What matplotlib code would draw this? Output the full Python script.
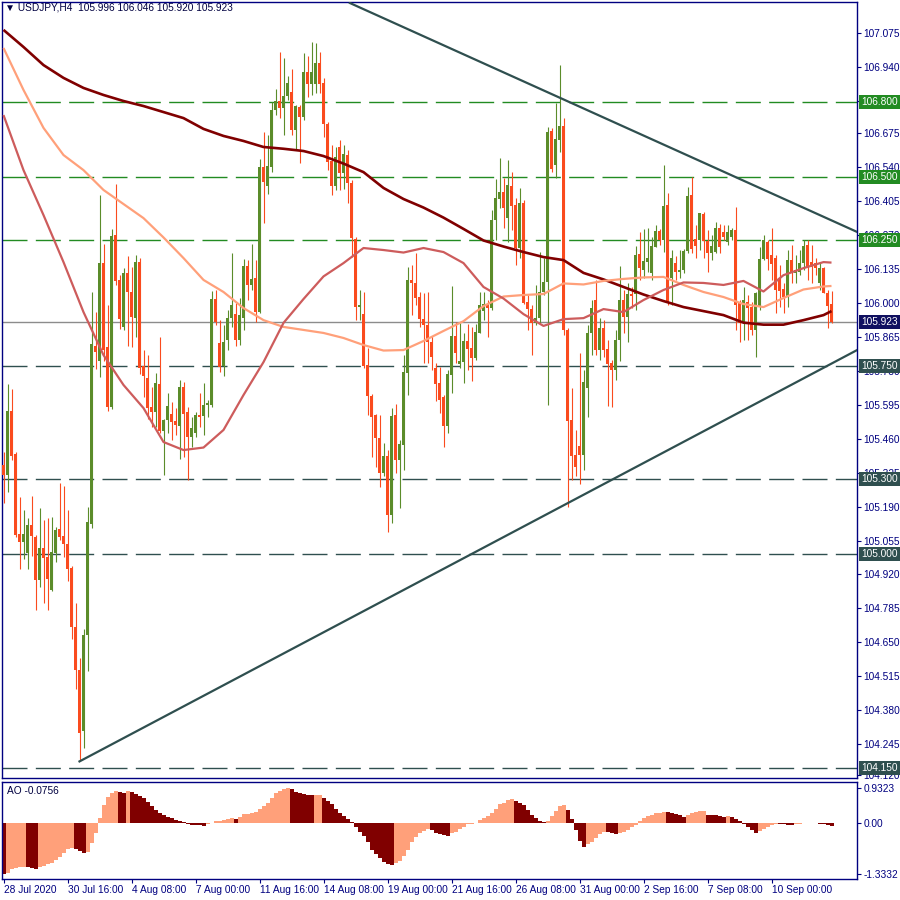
import matplotlib
matplotlib.use('Agg')
import matplotlib.pyplot as plt
import matplotlib.transforms as mtransforms
import numpy as np

plt.rcParams['font.family'] = ['Liberation Sans', 'DejaVu Sans']
plt.rcParams['lines.scale_dashes'] = False

# ---------------- data ----------------
chart_title = "\u25BC USDJPY,H4  105.996 106.046 105.920 105.923"
ao_title = "AO -0.0756"

opens = [105.355, 105.316, 105.571, 105.399, 105.081, 105.050, 105.006, 105.117, 105.069, 104.898,
         105.025, 104.989, 104.858, 105.006, 105.101, 105.073, 105.041, 104.945, 104.709, 104.539,
         104.298, 104.679, 105.120, 105.829, 105.768, 106.159, 105.825, 105.585, 106.271, 106.091,
         105.905, 106.121, 106.042, 105.942, 106.162, 105.751, 105.700, 105.587, 105.567, 105.678,
         105.492, 105.534, 105.558, 105.530, 105.512, 105.667, 105.565, 105.468, 105.482, 105.554,
         105.550, 105.593, 105.594, 106.016, 105.841, 105.749, 105.853, 105.939, 105.956, 105.853,
         105.939, 106.147, 106.072, 106.101, 105.965, 106.543, 106.467, 106.543, 106.768, 106.804,
         106.777, 106.824, 106.841, 106.689, 106.781, 106.742, 106.921, 106.871, 106.872, 106.956,
         106.877, 106.711, 106.565, 106.467, 106.622, 106.516, 106.589, 106.477, 106.255, 105.983,
         105.956, 105.753, 105.631, 105.554, 105.462, 105.325, 105.391, 105.156, 105.554, 105.375,
         105.435, 105.723, 106.092, 106.078, 106.025, 105.935, 105.913, 105.846, 105.740, 105.681,
         105.625, 105.512, 105.714, 105.869, 105.756, 105.766, 105.849, 105.820, 105.780, 105.882,
         105.968, 105.995, 105.979, 106.330, 106.414, 106.443, 106.340, 106.466, 106.390, 106.220,
         106.399, 106.005, 105.976, 105.919, 105.939, 106.043, 106.083, 106.686, 106.549, 106.649,
         106.705, 105.893, 105.534, 105.395, 105.432, 105.395, 105.663, 105.880, 106.012, 105.813,
         105.899, 105.817, 105.760, 105.733, 105.853, 106.012, 105.946, 106.036, 106.036, 106.195,
         106.131, 106.164, 106.121, 106.224, 106.287, 106.251, 106.390, 106.101, 106.158, 106.125,
         106.131, 106.207, 106.430, 106.254, 106.251, 106.353, 106.247, 106.198, 106.204, 106.297,
         106.284, 106.244, 106.264, 106.291, 105.999, 105.922, 106.005, 105.983, 105.893, 105.983,
         106.174, 106.244, 106.191, 106.178, 106.098, 106.055, 106.025, 106.171, 106.118, 106.125,
         106.158, 106.231, 106.164, 106.158, 106.078, 106.138, 106.041, 105.996]

highs = [105.407, 105.678, 105.658, 105.407, 105.229, 105.176, 105.144, 105.232, 105.075, 105.185,
         105.136, 105.146, 105.150, 105.110, 105.284, 105.273, 105.176, 104.953, 104.808, 104.587,
         104.703, 105.189, 106.045, 105.963, 106.430, 106.235, 105.993, 106.294, 106.472, 106.112,
         106.141, 106.187, 106.145, 106.191, 106.179, 105.813, 105.793, 105.667, 105.720, 105.866,
         105.540, 105.641, 105.607, 105.583, 105.694, 105.687, 105.587, 105.548, 105.567, 105.641,
         105.681, 105.614, 106.049, 106.052, 105.932, 105.913, 105.972, 106.198, 106.000, 106.020,
         106.174, 106.171, 106.235, 106.171, 106.572, 106.681, 106.669, 106.800, 106.852, 106.999,
         106.975, 106.904, 106.931, 106.788, 106.788, 106.995, 106.983, 107.039, 107.035, 106.999,
         106.896, 106.720, 106.629, 106.622, 106.649, 106.629, 106.609, 106.490, 106.263, 106.052,
         106.044, 105.821, 105.640, 105.560, 105.554, 105.442, 105.415, 105.582, 105.598, 105.455,
         105.793, 106.145, 106.150, 106.198, 106.044, 106.039, 106.045, 105.869, 105.761, 105.747,
         105.634, 105.733, 106.068, 105.926, 105.920, 105.881, 105.917, 105.906, 105.917, 106.045,
         106.045, 106.012, 106.370, 106.494, 106.577, 106.498, 106.569, 106.523, 106.418, 106.459,
         106.410, 106.032, 105.992, 106.072, 106.203, 106.179, 106.701, 106.697, 106.796, 106.947,
         106.736, 105.900, 105.662, 105.495, 105.801, 105.733, 105.913, 106.012, 106.092, 105.940,
         105.932, 105.853, 105.773, 105.893, 106.147, 106.052, 106.080, 106.064, 106.227, 106.283,
         106.295, 106.299, 106.263, 106.311, 106.295, 106.549, 106.438, 106.211, 106.187, 106.211,
         106.215, 106.463, 106.502, 106.311, 106.360, 106.362, 106.291, 106.271, 106.322, 106.314,
         106.311, 106.311, 106.299, 106.382, 106.012, 106.065, 106.032, 106.004, 106.044, 106.224,
         106.271, 106.251, 106.299, 106.191, 106.151, 106.080, 106.211, 106.231, 106.191, 106.211,
         106.251, 106.251, 106.231, 106.179, 106.163, 106.143, 106.052, 106.046]

lows = [105.204, 105.248, 105.375, 105.069, 104.941, 104.981, 104.941, 104.994, 104.778, 104.871,
        104.806, 104.778, 104.854, 104.970, 105.057, 104.991, 104.895, 104.664, 104.465, 104.176,
        104.229, 104.534, 105.105, 105.737, 105.707, 105.769, 105.570, 105.577, 106.073, 105.897,
        105.893, 105.829, 105.826, 105.866, 105.718, 105.627, 105.538, 105.508, 105.505, 105.482,
        105.316, 105.482, 105.455, 105.475, 105.378, 105.386, 105.296, 105.428, 105.468, 105.508,
        105.475, 105.548, 105.587, 105.913, 105.725, 105.710, 105.813, 105.906, 105.829, 105.833,
        105.893, 106.012, 106.052, 105.924, 105.959, 106.320, 106.435, 106.522, 106.748, 106.736,
        106.669, 106.808, 106.669, 106.609, 106.558, 106.728, 106.820, 106.828, 106.836, 106.836,
        106.661, 106.529, 106.430, 106.450, 106.450, 106.453, 106.398, 106.183, 105.932, 105.932,
        105.741, 105.554, 105.388, 105.349, 105.269, 105.312, 105.089, 105.124, 105.322, 105.184,
        105.335, 105.634, 105.952, 105.992, 105.905, 105.760, 105.761, 105.733, 105.611, 105.562,
        105.428, 105.482, 105.642, 105.761, 105.741, 105.680, 105.733, 105.691, 105.773, 105.881,
        105.932, 105.866, 105.972, 106.251, 106.380, 106.297, 106.243, 106.291, 106.153, 106.179,
        105.996, 105.893, 105.794, 105.913, 105.919, 106.032, 105.594, 106.522, 106.498, 106.601,
        105.873, 105.190, 105.296, 105.312, 105.280, 105.335, 105.546, 105.793, 105.793, 105.773,
        105.785, 105.590, 105.586, 105.694, 105.769, 105.879, 105.846, 105.980, 105.972, 106.092,
        106.098, 106.123, 106.092, 106.223, 106.231, 106.203, 105.992, 105.992, 106.092, 106.100,
        106.120, 106.199, 106.199, 106.179, 106.211, 106.179, 106.123, 106.171, 106.198, 106.199,
        106.251, 106.231, 106.251, 105.893, 105.846, 105.853, 105.853, 105.873, 105.785, 105.972,
        106.171, 106.131, 106.092, 105.960, 105.985, 105.959, 105.984, 106.080, 106.080, 106.112,
        106.131, 106.092, 106.080, 106.112, 106.052, 106.040, 105.899, 105.920]

closes = [105.316, 105.571, 105.391, 105.077, 105.050, 105.081, 105.117, 105.074, 104.898, 105.025,
          104.986, 104.902, 105.009, 105.097, 105.070, 105.041, 104.941, 104.709, 104.539, 104.290,
          104.679, 105.128, 105.837, 105.806, 106.159, 105.813, 105.585, 106.268, 106.088, 105.938,
          106.118, 106.042, 105.946, 106.162, 105.743, 105.711, 105.583, 105.565, 105.683, 105.492,
          105.534, 105.590, 105.528, 105.515, 105.667, 105.558, 105.468, 105.501, 105.554, 105.548,
          105.594, 105.603, 106.016, 105.925, 105.747, 105.845, 105.939, 105.992, 105.853, 105.952,
          106.147, 106.072, 106.094, 105.965, 106.543, 106.483, 106.545, 106.768, 106.804, 106.777,
          106.824, 106.877, 106.689, 106.784, 106.742, 106.921, 106.871, 106.918, 106.956, 106.871,
          106.711, 106.562, 106.467, 106.582, 106.516, 106.593, 106.477, 106.258, 105.983, 105.992,
          105.749, 105.631, 105.548, 105.462, 105.325, 105.391, 105.156, 105.550, 105.375, 105.439,
          105.727, 106.092, 106.081, 106.019, 105.935, 105.913, 105.844, 105.786, 105.677, 105.614,
          105.512, 105.718, 105.869, 105.800, 105.769, 105.849, 105.817, 105.782, 105.883, 105.992,
          105.995, 105.979, 106.330, 106.417, 106.443, 106.377, 106.470, 106.386, 106.220, 106.399,
          106.001, 105.976, 105.919, 105.939, 106.043, 106.083, 106.679, 106.532, 106.653, 106.705,
          105.893, 105.530, 105.391, 105.349, 105.395, 105.687, 105.880, 105.979, 105.813, 105.899,
          105.813, 105.756, 105.733, 105.853, 106.012, 105.946, 106.036, 106.028, 106.191, 106.141,
          106.167, 106.180, 106.227, 106.287, 106.251, 106.386, 106.005, 106.178, 106.125, 106.131,
          106.207, 106.426, 106.214, 106.227, 106.357, 106.247, 106.198, 106.227, 106.297, 106.224,
          106.264, 106.284, 106.291, 105.992, 105.922, 106.012, 105.979, 105.893, 106.039, 106.174,
          106.251, 106.174, 106.155, 106.052, 106.049, 106.023, 106.171, 106.118, 106.131, 106.160,
          106.227, 106.145, 106.145, 106.138, 106.138, 106.041, 105.988, 105.923]

# moving averages, sampled at these bar indices
ma_idx = [0, 5, 10, 15, 20, 25, 30, 35, 40, 45, 50, 55, 60, 65, 70, 75, 80, 85, 90, 95,
          100, 105, 110, 115, 120, 125, 130, 135, 140, 145, 150, 155, 160, 165, 170, 175,
          180, 185, 190, 195, 200, 205, 207]
ma_slow = [107.087, 107.019, 106.947, 106.896, 106.856, 106.828, 106.804, 106.784, 106.760, 106.736,
           106.693, 106.665, 106.645, 106.621, 106.614, 106.605, 106.585, 106.555, 106.521, 106.458,
           106.414, 106.380, 106.340, 106.295, 106.249, 106.225, 106.203, 106.183, 106.171, 106.120,
           106.094, 106.064, 106.034, 106.008, 105.984, 105.968, 105.952, 105.922, 105.914, 105.914,
           105.932, 105.952, 105.968]
ma_mid = [107.015, 106.848, 106.697, 106.589, 106.529, 106.450, 106.394, 106.338, 106.261, 106.179,
          106.092, 106.044, 105.980, 105.932, 105.905, 105.893, 105.881, 105.861, 105.833, 105.811,
          105.813, 105.849, 105.889, 105.928, 105.988, 106.026, 106.032, 106.036, 106.078, 106.074,
          106.088, 106.096, 106.102, 106.104, 106.072, 106.044, 106.024, 105.996, 105.984, 106.020,
          106.054, 106.066, 106.068]
ma_fast = [106.748, 106.529, 106.350, 106.163, 105.964, 105.793, 105.674, 105.582, 105.447, 105.415,
           105.425, 105.495, 105.634, 105.765, 105.921, 106.016, 106.106, 106.159, 106.219, 106.211,
           106.201, 106.219, 106.203, 106.159, 106.064, 106.018, 105.956, 105.909, 105.936, 105.940,
           105.976, 105.964, 106.012, 106.052, 106.082, 106.080, 106.072, 106.088, 106.046, 106.111,
           106.139, 106.163, 106.161]

# Awesome Oscillator
ao_before = -1.300
ao_values = [-1.3332, -1.300, -1.211, -1.175, -1.160, -1.140, -1.158, -1.184, -1.202, -1.158,
             -1.123, -1.070, -1.035, -0.965, -0.877, -0.789, -0.684, -0.649, -0.667, -0.719,
             -0.772, -0.754, -0.526, -0.263, 0.132, 0.482, 0.702, 0.807, 0.851, 0.833,
             0.807, 0.851, 0.833, 0.772, 0.719, 0.658, 0.570, 0.456, 0.351, 0.281,
             0.219, 0.175, 0.132, 0.088, 0.061, 0.044, -0.026, -0.044, -0.048, -0.053,
             -0.061, -0.026, 0.018, 0.053, 0.070, 0.088, 0.105, 0.132, 0.114, 0.175,
             0.237, 0.254, 0.272, 0.289, 0.368, 0.456, 0.544, 0.658, 0.789, 0.860,
             0.904, 0.9323, 0.895, 0.833, 0.789, 0.772, 0.754, 0.746, 0.750, 0.754,
             0.658, 0.588, 0.500, 0.368, 0.263, 0.193, 0.105, 0.044, -0.088, -0.219,
             -0.333, -0.482, -0.702, -0.807, -0.921, -1.009, -1.070, -1.096, -1.053, -0.991,
             -0.860, -0.702, -0.500, -0.351, -0.263, -0.202, -0.158, -0.175, -0.246, -0.281,
             -0.307, -0.333, -0.263, -0.219, -0.149, -0.088, -0.026, -0.009, 0.018, 0.088,
             0.132, 0.193, 0.263, 0.368, 0.509, 0.544, 0.614, 0.640, 0.588, 0.526,
             0.482, 0.351, 0.219, 0.132, 0.061, 0.026, 0.061, 0.193, 0.325, 0.456,
             0.482, 0.351, 0.114, -0.175, -0.465, -0.614, -0.553, -0.482, -0.395, -0.289,
             -0.219, -0.237, -0.263, -0.281, -0.246, -0.219, -0.175, -0.105, -0.044, 0.070,
             0.132, 0.193, 0.228, 0.263, 0.281, 0.298, 0.289, 0.263, 0.246, 0.219,
             0.175, 0.219, 0.263, 0.298, 0.316, 0.325, 0.228, 0.219, 0.211, 0.193,
             0.175, 0.184, 0.158, 0.105, 0.053, -0.026, -0.088, -0.175, -0.246, -0.193,
             -0.140, -0.088, -0.044, -0.009, -0.013, -0.018, -0.035, -0.044, -0.026, -0.009,
             0.018, 0.013, 0.008, 0.002, -0.009, -0.026, -0.053, -0.0756]

levels_green = [106.800, 106.500, 106.250]
levels_slate = [105.750, 105.300, 105.000, 104.150]
last_price = 105.923

trend_upper_x = [86.6, 213.4]
trend_upper_y = [107.194, 106.283]
trend_lower_x = [19.0, 213.4]
trend_lower_y = [104.176, 105.813]

price_ticks = [107.075, 106.940, 106.805, 106.675, 106.540, 106.405, 106.270, 106.135, 106.000,
               105.865, 105.730, 105.595, 105.460, 105.325, 105.190, 105.055, 104.920, 104.785,
               104.650, 104.515, 104.380, 104.245, 104.120]
hidden_tick_labels = [106.805]
ao_ticks = [0.9323, 0.0, -1.3332]
ao_tick_labels = ["0.9323", "0.00", "-1.3332"]
date_tick_idx = [0, 16, 32, 48, 64, 80, 96, 112, 128, 144, 160, 176, 192]
date_labels = ["28 Jul 2020", "30 Jul 16:00", "4 Aug 08:00", "7 Aug 00:00", "11 Aug 16:00",
               "14 Aug 08:00", "19 Aug 00:00", "21 Aug 16:00", "26 Aug 08:00", "31 Aug 00:00",
               "2 Sep 16:00", "7 Sep 08:00", "10 Sep 00:00"]

# ---------------- styles ----------------
NAVY = '#000080'
BULL = '#5B8C2A'
BEAR = '#FA4B1E'
GREEN_LVL = '#228B22'
SLATE = '#2F4F4F'
FS = 7.3

W, H = 900, 900
fig = plt.figure(figsize=(9, 9), dpi=100)
fig.patch.set_facecolor('white')


def px_rect(l, t, r, b):
    return [l / W, 1 - b / H, (r - l) / W, (b - t) / H]


ax = fig.add_axes(px_rect(2, 2, 857, 778))
ax2 = fig.add_axes(px_rect(2, 782, 857, 879))

o = np.array(opens)
h = np.array(highs)
l = np.array(lows)
c = np.array(closes)
n = len(c)
x = np.arange(n)
bull = c >= o
cols = np.where(bull, BULL, BEAR)

# reference lines
for lv in levels_green:
    ax.axhline(lv, color=GREEN_LVL, lw=1.0, ls=(0, (18, 6)), zorder=1)
for lv in levels_slate:
    ax.axhline(lv, color=SLATE, lw=1.0, ls=(0, (18, 6)), zorder=1)
ax.axhline(last_price, color='#8C8C8C', lw=1.0, zorder=1)

# candles
ax.vlines(x, l, h, colors=cols, lw=0.8, zorder=2)
ax.bar(x, np.maximum(np.abs(c - o), 0.003), bottom=np.minimum(o, c), width=0.72,
       color=cols, linewidth=0, zorder=3)

# moving averages
ax.plot(ma_idx, ma_slow, color='#800000', lw=1.9, zorder=4, solid_capstyle='butt')
ax.plot(ma_idx, ma_mid, color='#FFA07A', lw=1.6, zorder=4, solid_capstyle='butt')
ax.plot(ma_idx, ma_fast, color='#CD5C5C', lw=1.6, zorder=4, solid_capstyle='butt')

# trend lines
ax.plot(trend_upper_x, trend_upper_y, color=SLATE, lw=1.6, zorder=5)
ax.plot(trend_lower_x, trend_lower_y, color=SLATE, lw=1.6, zorder=5)

ax.set_xlim(-0.375, 213.375)
ax.set_ylim(104.110, 107.198)
ax.yaxis.tick_right()
ax.set_yticks(price_ticks)
ax.set_yticklabels(['' if t in hidden_tick_labels else '%.3f' % t for t in price_ticks])
ax.tick_params(axis='y', direction='out', length=3, width=0.8, color=NAVY,
               labelcolor=NAVY, labelsize=FS, pad=1.5)
ax.tick_params(axis='x', bottom=False, labelbottom=False)
for sp in ax.spines.values():
    sp.set_color(NAVY)
    sp.set_linewidth(1.0)

ax.text(0.004, 0.9925, chart_title, transform=ax.transAxes, ha='left', va='center',
        fontsize=FS, color='#000040', zorder=10)

# boxed right-axis labels
tr = mtransforms.blended_transform_factory(ax.transAxes, ax.transData)
for lv in levels_green:
    ax.text(1.0047, lv, '%.3f' % lv, transform=tr, ha='left', va='center', fontsize=FS,
            color='white', clip_on=False, zorder=20,
            bbox=dict(boxstyle='square,pad=0.2', fc=GREEN_LVL, ec='none'))
for lv in levels_slate:
    ax.text(1.0047, lv, '%.3f' % lv, transform=tr, ha='left', va='center', fontsize=FS,
            color='white', clip_on=False, zorder=20,
            bbox=dict(boxstyle='square,pad=0.2', fc=SLATE, ec='none'))
ax.text(1.0047, last_price, '%.3f' % last_price, transform=tr, ha='left', va='center',
        fontsize=FS, color='white', clip_on=False, zorder=21,
        bbox=dict(boxstyle='square,pad=0.2', fc='#101060', ec='none'))

# AO panel
ao = np.array(ao_values)
prev = np.concatenate([[ao_before], ao[:-1]])
ao_cols = np.where(ao > prev, '#FFA07A', '#800000')
ax2.bar(x, ao, width=1.0, color=ao_cols, linewidth=0)
ax2.set_xlim(-0.375, 213.375)
ax2.set_ylim(-1.466, 1.087)
ax2.yaxis.tick_right()
ax2.set_yticks(ao_ticks)
ax2.set_yticklabels(ao_tick_labels)
ax2.tick_params(axis='y', direction='out', length=3, width=0.8, color=NAVY,
                labelcolor=NAVY, labelsize=FS, pad=1.5)
ax2.set_xticks(date_tick_idx)
ax2.set_xticklabels(date_labels, ha='left')
ax2.tick_params(axis='x', direction='out', length=3, width=0.8, color=NAVY,
                labelcolor=NAVY, labelsize=FS, pad=1.0)
for sp in ax2.spines.values():
    sp.set_color(NAVY)
    sp.set_linewidth(1.0)
ax2.text(0.006, 0.955, ao_title, transform=ax2.transAxes, ha='left', va='top',
         fontsize=FS, color='#000040')

fig.savefig('out.png', dpi=100, facecolor='white')
